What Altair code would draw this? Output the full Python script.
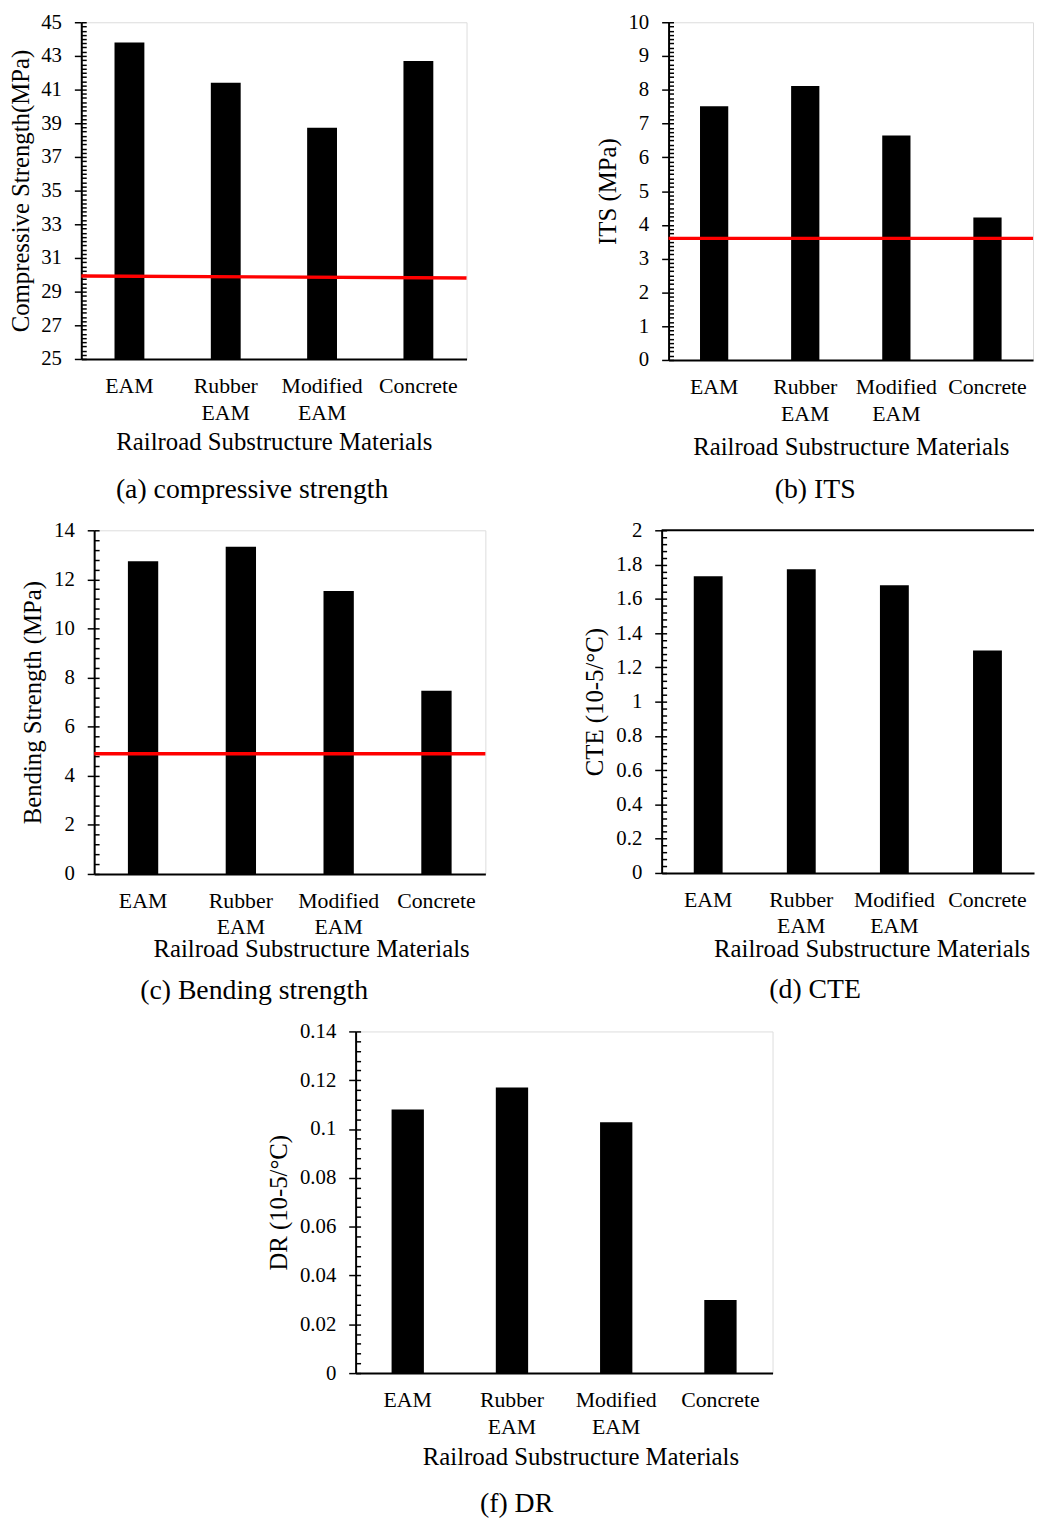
import altair as alt
import pandas as pd

FONT = "Liberation Serif"

materials = ["EAM", "Rubber EAM", "Modified EAM", "Concrete"]

comp_strength = [43.8, 41.4, 38.73, 42.7]
comp_limit = [29.93, 29.81]          # red requirement line, left end / right end
its_values = [7.51, 8.11, 6.65, 4.22]
its_limit = [3.6]
bend_values = [12.74, 13.33, 11.53, 7.46]
bend_limit = [4.9]
cte_values = [1.732, 1.773, 1.68, 1.299]
dr_values = [0.108, 0.117, 0.1028, 0.030]

comp_ticks = [25, 27, 29, 31, 33, 35, 37, 39, 41, 43, 45]
its_ticks = [0, 1, 2, 3, 4, 5, 6, 7, 8, 9, 10]
bend_ticks = [0, 2, 4, 6, 8, 10, 12, 14]
cte_ticks = [0, 0.2, 0.4, 0.6, 0.8, 1, 1.2, 1.4, 1.6, 1.8, 2]
dr_ticks = [0, 0.02, 0.04, 0.06, 0.08, 0.1, 0.12, 0.14]


def minor_ticks(lo, hi, step):
    n = int(round((hi - lo) / step))
    return [round(lo + i * step, 6) for i in range(n + 1)]


def panel(values, y_title, ticks, minor_step, caption, width, height,
          limit=None, x_title_x=None, x_title_y=73, cap_offset=18, cap_dx=0,
          boxed=True, y_title_pad=8, label_lh=27):
    df = pd.DataFrame({"material": materials, "value": values})
    lo, hi = ticks[0], ticks[-1]
    yscale = alt.Scale(domain=[lo, hi], nice=False, zero=False)
    xscale = alt.Scale(paddingInner=0.69, paddingOuter=0.345)
    x_axis = alt.Axis(
        title="Railroad Substructure Materials", labelAngle=0, ticks=False,
        tickSize=0, labelPadding=17, labelExpr="split(datum.label, ' ')",
        labelLineHeight=label_lh, labelFontSize=22, labelFont=FONT,
        labelColor="black", titleFontSize=25, titleFont=FONT,
        titleFontWeight="normal", titleColor="black",
        titleX=(width / 2 if x_title_x is None else x_title_x),
        titleY=x_title_y, titleBaseline="top", titleAlign="center",
        domainWidth=2, domainColor="black", grid=False)
    y_axis = alt.Axis(
        title=y_title, orient="left", values=ticks, format="~r",
        tickSize=7, tickWidth=1.5, tickColor="black", labelPadding=13,
        labelFontSize=21, labelFont=FONT, labelColor="black",
        labelOverlap=False, titleFontSize=25, titleFont=FONT,
        titleFontWeight="normal", titleColor="black", titlePadding=y_title_pad,
        domainWidth=2, domainColor="black", grid=False)
    minor_axis = alt.Axis(
        orient="left", values=minor_ticks(lo, hi, minor_step), labels=False,
        domain=False, grid=False, tickSize=5, tickWidth=1.5,
        tickColor="black", offset=-5, title=None)

    bars = alt.Chart(df).mark_bar(color="black").encode(
        x=alt.X("material:N", sort=materials, scale=xscale, axis=x_axis),
        y=alt.Y("value:Q", scale=yscale, axis=y_axis, stack=None),
        y2=alt.value(height),
    )
    minor = alt.Chart(df).mark_point(opacity=0, size=1).encode(
        y=alt.Y("value:Q", scale=yscale, axis=minor_axis),
    )
    layers = [bars, minor]
    if limit is not None:
        if len(limit) == 2:
            ldf = pd.DataFrame({"y1": [limit[0]], "y2": [limit[1]]})
            rule = alt.Chart(ldf).mark_rule(color="#ff0000", strokeWidth=3.5).encode(
                x=alt.value(0), x2=alt.value(width),
                y=alt.Y("y1:Q", scale=yscale, axis=None), y2="y2:Q")
        else:
            ldf = pd.DataFrame({"y1": limit})
            rule = alt.Chart(ldf).mark_rule(color="#ff0000", strokeWidth=3.5).encode(
                y=alt.Y("y1:Q", scale=yscale, axis=None))
        layers.append(rule)
    props = dict(width=width, height=height,
                 title=alt.TitleParams(text=caption, orient="bottom", font=FONT,
                                       fontSize=28, fontWeight="normal",
                                       color="black", offset=cap_offset,
                                       dx=cap_dx, anchor="middle"))
    if not boxed:
        top = alt.Chart(pd.DataFrame({"k": [0]})).mark_rule(
            color="black", strokeWidth=2).encode(
            x=alt.value(0), x2=alt.value(width), y=alt.value(0))
        layers.append(top)
        props["view"] = alt.ViewBackground(strokeOpacity=0)
    return alt.layer(*layers).resolve_axis(y="independent").properties(**props)


def spacer():
    return alt.Chart(pd.DataFrame({"k": [0]})).mark_point(opacity=0, size=1).properties(
        width=1, height=1, view=alt.ViewBackground(strokeOpacity=0))


pa = panel(comp_strength, "Compressive Strength(MPa)", comp_ticks, 0.25,
           "(a) compressive strength", 389, 340, limit=comp_limit,
           x_title_y=71, cap_offset=22, cap_dx=-22, y_title_pad=7)
pb = panel(its_values, "ITS (MPa)", its_ticks, 0.125, "(b) ITS", 368, 341,
           limit=its_limit, x_title_y=75, cap_offset=17, cap_dx=-36)
pc = panel(bend_values, "Bending Strength (MPa)", bend_ticks, 0.4,
           "(c) Bending strength", 395, 347, limit=bend_limit,
           x_title_x=219, x_title_y=63, cap_offset=16, cap_dx=-36, label_lh=26)
pd_ = panel(cte_values, "CTE (10-5/°C)", cte_ticks, 0.04, "(d) CTE", 376, 346,
            x_title_x=212, x_title_y=64, cap_offset=15, cap_dx=-33,
            boxed=False, label_lh=26)
pf = panel(dr_values, "DR (10-5/°C)", dr_ticks, 0.004, "(f) DR", 421, 345,
           x_title_x=227, x_title_y=72, cap_offset=21, cap_dx=-48)

row1 = alt.hconcat(spacer(), alt.hconcat(pa, pb, spacing=126), spacing=0)
row2 = alt.hconcat(spacer(), alt.hconcat(pc, pd_, spacing=95), spacing=12)
row3 = alt.hconcat(spacer(), pf, spacing=260)

chart = alt.vconcat(row1, row2, row3, spacing=14).configure_view(
    stroke="black", strokeWidth=2
).configure(font=FONT).properties(
    padding={"left": -1, "top": -5, "right": 0, "bottom": 0}
)

chart.save("out.html", embed_options={"renderer": "svg", "actions": False})
